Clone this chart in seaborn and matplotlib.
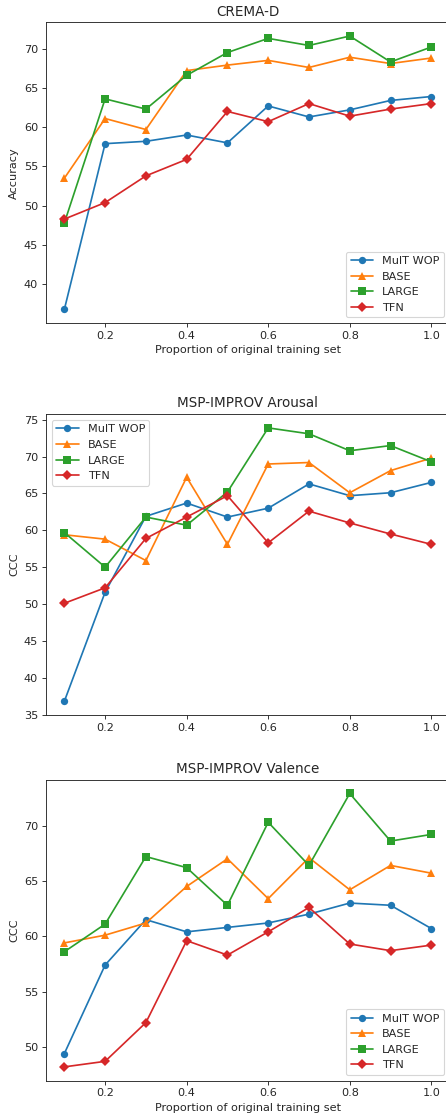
import pandas as pd
import matplotlib.pyplot as plt
import seaborn as sns

# Proporciones del conjunto de entrenamiento
proportions = [0.1, 0.2, 0.3, 0.4, 0.5, 0.6, 0.7, 0.8, 0.9, 1.0]
models = ['MulT WOP', 'BASE', 'LARGE', 'TFN']

# CREMA-D (Accuracy)
crema_mult = [36.8, 57.9, 58.2, 59.0, 58.0, 62.7, 61.3, 62.2, 63.4, 63.9]
crema_base = [53.5, 61.1, 59.7, 67.2, 67.9, 68.5, 67.6, 68.9, 68.1, 68.8]
crema_large = [47.8, 63.6, 62.3, 66.6, 69.5, 71.3, 70.4, 71.6, 68.3, 70.2]
crema_tfn = [48.3, 50.4, 53.8, 55.9, 62.0, 60.7, 63.0, 61.4, 62.3, 63.0]

# MSP-IMPROV Arousal (CCC)
arousal_mult = [36.8, 51.6, 61.9, 63.7, 61.8, 63.0, 66.3, 64.7, 65.1, 66.5]
arousal_base = [59.4, 58.8, 55.9, 67.2, 58.1, 69.0, 69.2, 65.1, 68.1, 69.8]
arousal_large = [59.7, 55.0, 61.8, 60.7, 65.2, 73.9, 73.1, 70.8, 71.5, 69.3]
arousal_tfn = [50.1, 52.2, 58.9, 61.8, 64.7, 58.3, 62.6, 61.0, 59.5, 58.1]

# MSP-IMPROV Valence (CCC)
valence_mult = [49.4, 57.4, 61.5, 60.4, 60.8, 61.2, 62.0, 63.0, 62.8, 60.7]
valence_base = [59.4, 60.1, 61.2, 64.5, 67.0, 63.4, 67.1, 64.2, 66.4, 65.7]
valence_large = [58.6, 61.1, 67.2, 66.2, 62.8, 70.3, 66.4, 72.9, 68.6, 69.2]
valence_tfn = [48.2, 48.7, 52.2, 59.6, 58.3, 60.4, 62.6, 59.3, 58.7, 59.2]


def to_long(series):
    rows = []
    for model, values in zip(models, series):
        for p, v in zip(proportions, values):
            rows.append({'proportion': p, 'value': v, 'model': model})
    return pd.DataFrame(rows)


panels = [
    ('CREMA-D', 'Accuracy', [crema_mult, crema_base, crema_large, crema_tfn], 'lower right', True),
    ('MSP-IMPROV Arousal', 'CCC', [arousal_mult, arousal_base, arousal_large, arousal_tfn], 'upper left', False),
    ('MSP-IMPROV Valence', 'CCC', [valence_mult, valence_base, valence_large, valence_tfn], 'lower right', True),
]

sns.set_style('ticks')
plt.rcParams['font.family'] = ['DejaVu Sans']

palette = {'MulT WOP': '#1f77b4', 'BASE': '#ff7f0e', 'LARGE': '#2ca02c', 'TFN': '#d62728'}
markers = {'MulT WOP': 'o', 'BASE': '^', 'LARGE': 's', 'TFN': 'D'}

DPI = 81
fig = plt.figure(figsize=(447 / DPI, 1118 / DPI), dpi=DPI)

# posiciones de los ejes (en fracciones de la figura)
left, width = 0.1029, 0.903
bottoms = [0.711, 0.3605, 0.0335]
height = 0.269

for (title, ylabel, series, loc, show_xlabel), b in zip(panels, bottoms):
    ax = fig.add_axes([left, b, width, height])
    df = to_long(series)
    sns.lineplot(data=df, x='proportion', y='value', hue='model', style='model',
                 palette=palette, markers=markers, dashes=False, markersize=6.5,
                 markeredgewidth=0, linewidth=1.5, ax=ax)
    ax.set_title(title, fontsize=12)
    ax.set_ylabel(ylabel, fontsize=10)
    if show_xlabel:
        ax.set_xlabel('Proportion of original training set', fontsize=10)
    else:
        ax.set_xlabel('')
    ax.set_xticks([0.2, 0.4, 0.6, 0.8, 1.0])
    ax.set_xticklabels(['0.2', '0.4', '0.6', '0.8', '1.0'])
    ax.tick_params(labelsize=10)
    ax.margins(x=0.05, y=0.05)
    for s in ax.spines.values():
        s.set_visible(True)
    ax.legend(loc=loc, fontsize=10, title=None)

plt.savefig('out.png', dpi=DPI)
